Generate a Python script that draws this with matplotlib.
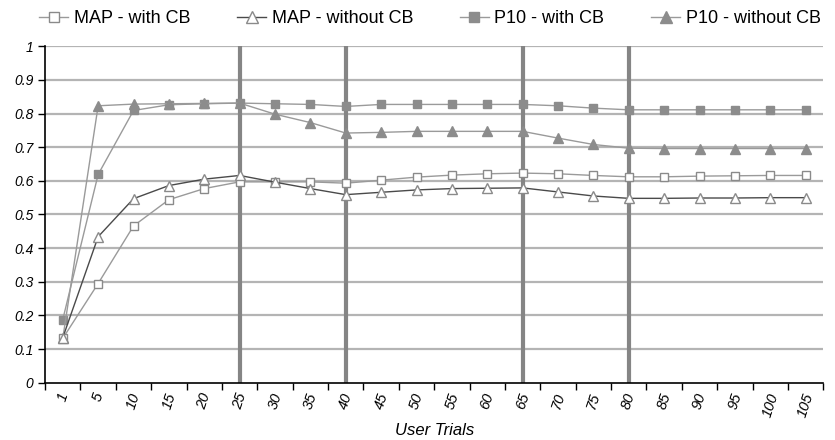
import matplotlib
matplotlib.use('Agg')
import matplotlib.pyplot as plt
import numpy as np

plt.rcParams['font.family'] = ['Liberation Sans', 'DejaVu Sans']

# user trial categories
trials = ['1', '5', '10', '15', '20', '25', '30', '35', '40', '45', '50',
          '55', '60', '65', '70', '75', '80', '85', '90', '95', '100', '105']

map_with_cb = [0.132, 0.295, 0.466, 0.544, 0.577, 0.597, 0.597, 0.597, 0.593, 0.602, 0.611,
               0.617, 0.621, 0.623, 0.621, 0.616, 0.612, 0.612, 0.614, 0.615, 0.616, 0.616]
map_without_cb = [0.134, 0.434, 0.547, 0.586, 0.605, 0.616, 0.596, 0.577, 0.559, 0.566, 0.573,
                  0.577, 0.578, 0.579, 0.567, 0.555, 0.548, 0.548, 0.549, 0.549, 0.550, 0.550]
p10_with_cb = [0.188, 0.619, 0.809, 0.826, 0.829, 0.831, 0.829, 0.827, 0.821, 0.827, 0.827,
               0.827, 0.827, 0.827, 0.823, 0.816, 0.811, 0.811, 0.811, 0.811, 0.811, 0.811]
p10_without_cb = [0.132, 0.823, 0.828, 0.829, 0.830, 0.831, 0.798, 0.773, 0.742, 0.744, 0.747,
                  0.747, 0.747, 0.747, 0.727, 0.708, 0.697, 0.696, 0.696, 0.696, 0.696, 0.696]

# trials where the thick vertical markers sit
marked = ['25', '40', '65', '80']

fig = plt.figure(figsize=(8.35, 4.4), dpi=100)
ax = fig.add_axes([0.054, 0.13, 0.932, 0.765])

x = np.arange(len(trials))

ax.set_ylim(0, 1)
ax.set_xlim(-0.5, len(trials) - 0.5)
ax.set_yticks(np.arange(0, 1.01, 0.1))
ax.set_yticklabels(['0', '0.1', '0.2', '0.3', '0.4', '0.5', '0.6', '0.7', '0.8', '0.9', '1'],
                   fontstyle='italic', fontsize=10)
for yv in np.arange(0.1, 1.01, 0.1):
    ax.axhline(yv, color='#b4b4b4', lw=1.6, zorder=1)

for m in marked:
    ax.axvline(trials.index(m), color='#858585', lw=3, zorder=2)

ax.plot(x, map_with_cb, color='#9a9a9a', lw=1, marker='s', ms=5.5,
        mfc='white', mec='#8a8a8a', mew=1, label='MAP - with CB', zorder=4)
ax.plot(x, map_without_cb, color='#4a4a4a', lw=1, marker='^', ms=6.5,
        mfc='white', mec='#8a8a8a', mew=1, label='MAP - without CB', zorder=4)
ax.plot(x, p10_with_cb, color='#9a9a9a', lw=1, marker='s', ms=5.5,
        mfc='#8c8c8c', mec='#8c8c8c', label='P10 - with CB', zorder=3)
ax.plot(x, p10_without_cb, color='#9a9a9a', lw=1, marker='^', ms=6.5,
        mfc='#8c8c8c', mec='#8c8c8c', label='P10 - without CB', zorder=3)

ax.set_xticks(x)
ax.set_xticklabels(trials, rotation=72, fontstyle='italic', fontsize=10.5)
ax.set_xticks(np.arange(-0.5, len(trials)), minor=True)
ax.tick_params(axis='x', which='major', length=0, pad=6)
ax.tick_params(axis='x', which='minor', length=5, width=1)
ax.tick_params(axis='y', length=5, width=1)

for s in ['top', 'right']:
    ax.spines[s].set_visible(False)
ax.spines['left'].set_linewidth(1.2)
ax.spines['bottom'].set_linewidth(1.2)

ax.set_xlabel('User Trials', fontstyle='italic', fontsize=12, labelpad=3)

fig.legend(*ax.get_legend_handles_labels(), loc='center', bbox_to_anchor=(0.515, 0.957),
           ncol=4, frameon=False, fontsize=13, handlelength=1.6, columnspacing=2.6,
           handletextpad=0.3, markerscale=1.3)

plt.savefig('out.png', dpi=100)
